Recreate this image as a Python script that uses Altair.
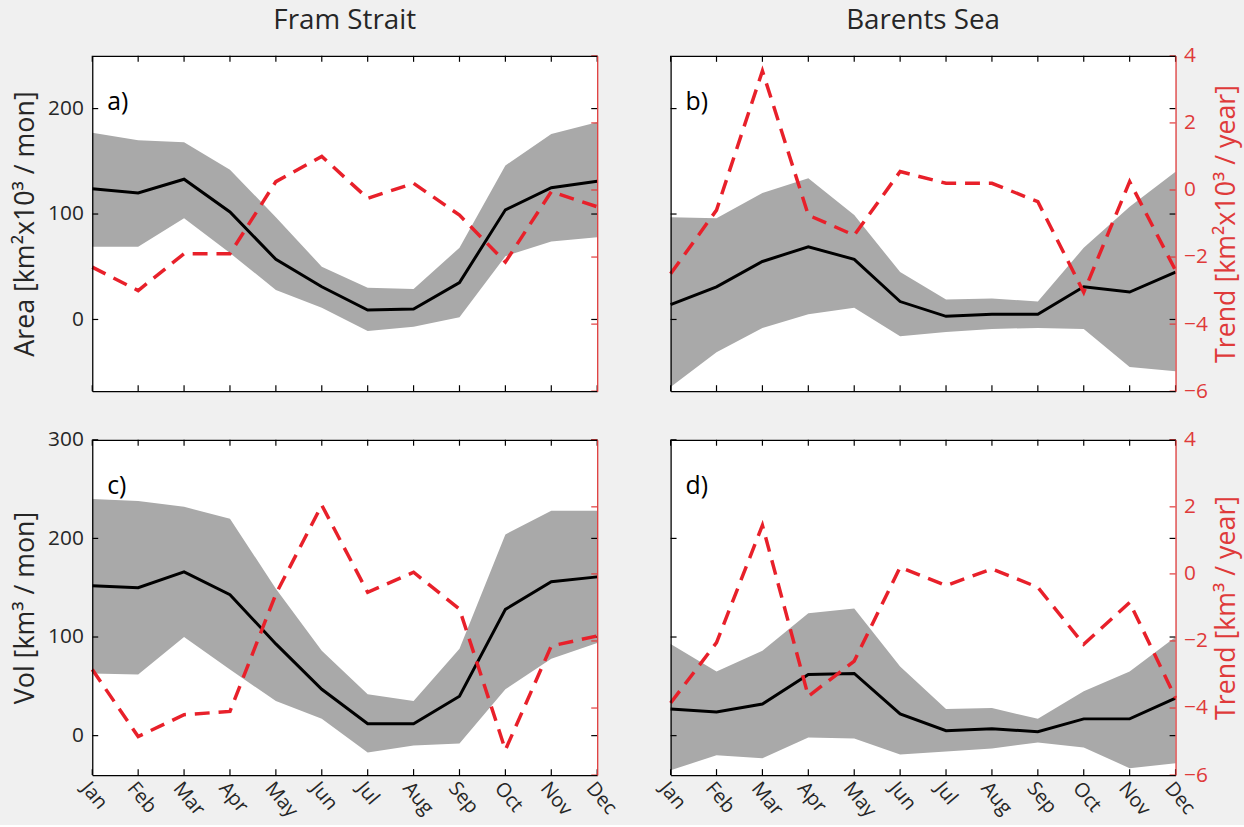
import altair as alt
import pandas as pd

months = ["Jan", "Feb", "Mar", "Apr", "May", "Jun", "Jul", "Aug", "Sep", "Oct", "Nov", "Dec"]

# Fram Strait - area
fram_area_mean = [124, 120, 133, 102, 57, 31, 9, 10, 35, 104, 125, 131]
fram_area_upper = [177, 170, 168, 142, 97, 50, 30, 29, 68, 146, 176, 187]
fram_area_lower = [69, 69, 96, 63, 28, 11, -11, -7, 2, 60, 74, 78]
fram_area_trend = [-2.3, -3.0, -1.9, -1.9, 0.25, 1.0, -0.25, 0.2, -0.75, -2.15, -0.05, -0.5]

# Barents Sea - area
barents_area_mean = [14, 31, 55, 69, 57, 17, 3, 5, 5, 31, 26, 45]
barents_area_upper = [97, 96, 120, 134, 99, 45, 19, 20, 17, 68, 107, 140]
barents_area_lower = [-64, -31, -8, 5, 11, -16, -12, -9, -8, -9, -45, -49]
barents_area_trend = [-2.5, -0.6, 3.55, -0.75, -1.35, 0.55, 0.2, 0.2, -0.35, -3.05, 0.25, -2.4]

# Fram Strait - volume
fram_vol_mean = [152, 150, 166, 143, 93, 47, 12, 12, 40, 128, 156, 161]
fram_vol_upper = [240, 238, 232, 220, 149, 86, 42, 35, 88, 204, 228, 228]
fram_vol_lower = [63, 62, 100, 67, 35, 17, -17, -10, -8, 47, 78, 94]
fram_vol_trend = [-2.85, -4.85, -4.2, -4.1, -0.6, 2.05, -0.55, 0.05, -1.05, -5.25, -2.15, -1.85]

# Barents Sea - volume
barents_vol_mean = [27, 24, 32, 62, 63, 22, 5, 7, 4, 17, 17, 38]
barents_vol_upper = [93, 65, 86, 124, 129, 70, 27, 28, 17, 45, 65, 100]
barents_vol_lower = [-35, -20, -23, -2, -3, -19, -16, -13, -7, -12, -33, -28]
barents_vol_trend = [-3.85, -2.05, 1.45, -3.65, -2.6, 0.2, -0.35, 0.15, -0.4, -2.1, -0.85, -3.7]

area_ticks = [0, 100, 200]
vol_ticks = [0, 100, 200, 300]
trend_ticks = [-6, -4, -2, 0, 2, 4]
area_domain = [-68, 250]
vol_domain = [-40, 300]
trend_domain = [-6, 4]

FONT = "Open Sans"
W, H = 509, 338
TL = 6  # inward tick length
RED = "#e8202a"
AXRED = "#df3a3a"
GREY = "#a9a9a9"
TXT = "#262626"
TICK_FS = 21
XTICK_FS = 20
TITLE_FS = 27


def panel(mean, upper, lower, trend, ydom, yticks, label,
          left_title=None, right_title=None, show_x=False, col_title=None):
    df = pd.DataFrame({"month": months, "mean": mean, "upper": upper,
                       "lower": lower, "trend": trend})
    xscale = alt.Scale(type="point", padding=0)
    yscale = alt.Scale(domain=ydom, nice=False, zero=False)
    tscale = alt.Scale(domain=trend_domain, nice=False, zero=False)

    bottom_kw = dict(orient="bottom", domainColor="black", domainWidth=1.3,
                     ticks=False, tickSize=0, title="", zindex=2)
    if show_x:
        bottom_kw.update(labels=True, labelAngle=50, labelAlign="left",
                         labelBaseline="top", labelPadding=3, labelFontSize=XTICK_FS,
                         labelFont=FONT, labelColor=TXT, labelOverlap=False)
    else:
        bottom_kw.update(labels=False)

    left_kw = dict(orient="left", values=yticks, domainColor="black", domainWidth=1.3,
                   ticks=False, tickSize=0, grid=False, zindex=2)
    if left_title:
        left_kw.update(labels=True, labelFontSize=TICK_FS, labelFont=FONT, labelColor=TXT,
                       labelPadding=9, title=left_title, titleFontSize=TITLE_FS,
                       titleFont=FONT, titleFontWeight="normal", titleColor=TXT,
                       titlePadding=8)
    else:
        left_kw.update(labels=False, title="")

    right_kw = dict(orient="right", values=trend_ticks, domainColor=AXRED, domainWidth=1.3,
                    ticks=False, tickSize=0, grid=False, zindex=2)
    if right_title:
        right_kw.update(labels=True, labelFontSize=TICK_FS, labelFont=FONT, labelColor=AXRED,
                        labelPadding=8, title=right_title, titleFontSize=TITLE_FS,
                        titleFont=FONT, titleFontWeight="normal", titleColor=AXRED,
                        titlePadding=6, titleAngle=270, titleBaseline="top")
    else:
        right_kw.update(labels=False, title="")

    top_axis = alt.Axis(orient="top", labels=False, ticks=False, tickSize=0,
                        domainColor="black", domainWidth=1.3, title="", zindex=2)

    band = alt.Chart(df).mark_area(color=GREY, opacity=1).encode(
        x=alt.X("month:O", sort=months, scale=xscale, axis=alt.Axis(**bottom_kw)),
        y=alt.Y("upper:Q", scale=yscale, axis=alt.Axis(**left_kw)),
        y2="lower:Q",
    )
    mean_line = alt.Chart(df).mark_line(color="black", strokeWidth=3).encode(
        x=alt.X("month:O", sort=months, scale=xscale),
        y=alt.Y("mean:Q", scale=yscale),
    )
    mdf = pd.DataFrame({"month": months})
    xt_top = alt.Chart(mdf).mark_rule(color="black", strokeWidth=1.2).encode(
        x=alt.X("month:O", sort=months, scale=xscale),
        y=alt.value(0), y2=alt.value(TL),
    )
    xt_bot = alt.Chart(mdf).mark_rule(color="black", strokeWidth=1.2).encode(
        x=alt.X("month:O", sort=months, scale=xscale),
        y=alt.value(H), y2=alt.value(H - TL),
    )
    ydf = pd.DataFrame({"v": yticks})
    yt_left = alt.Chart(ydf).mark_rule(color="black", strokeWidth=1.2).encode(
        y=alt.Y("v:Q", scale=yscale),
        x=alt.value(0), x2=alt.value(TL),
    )
    yt_right = alt.Chart(ydf).mark_rule(color="black", strokeWidth=1.2).encode(
        y=alt.Y("v:Q", scale=yscale),
        x=alt.value(W - TL), x2=alt.value(W),
    )
    ldf = pd.DataFrame({"t": [label]})
    lab = alt.Chart(ldf).mark_text(align="left", baseline="middle", fontSize=25,
                                   font=FONT, color="black").encode(
        x=alt.value(15), y=alt.value(47), text="t:N")

    layers = [band, mean_line, xt_top, xt_bot, yt_left, yt_right, lab]
    if col_title:
        cdf = pd.DataFrame({"t": [col_title]})
        layers.append(alt.Chart(cdf).mark_text(
            align="center", baseline="middle", fontSize=28, font=FONT, color=TXT
        ).encode(x=alt.value(W / 2), y=alt.value(-35), text="t:N"))
    left_layer = alt.layer(*layers)

    trend_line = alt.Chart(df).mark_line(color=RED, strokeWidth=3.5,
                                         strokeDash=[15, 9]).encode(
        x=alt.X("month:O", sort=months, scale=xscale, axis=top_axis),
        y=alt.Y("trend:Q", scale=tscale, axis=alt.Axis(**right_kw)),
    )
    tdf = pd.DataFrame({"v": trend_ticks})
    tt = alt.Chart(tdf).mark_rule(color=AXRED, strokeWidth=1.2).encode(
        y=alt.Y("v:Q", scale=tscale),
        x=alt.value(W - TL), x2=alt.value(W),
    )
    right_layer = alt.layer(trend_line, tt)

    ch = alt.layer(left_layer, right_layer).resolve_scale(
        y="independent").resolve_axis(x="independent", y="independent")
    return ch.properties(width=W, height=H)


a = panel(fram_area_mean, fram_area_upper, fram_area_lower, fram_area_trend,
          area_domain, area_ticks, "a)", left_title="Area [km²x10³ / mon]",
          col_title="Fram Strait")
b = panel(barents_area_mean, barents_area_upper, barents_area_lower, barents_area_trend,
          area_domain, area_ticks, "b)", right_title="Trend [km²x10³ / year]",
          col_title="Barents Sea")
c = panel(fram_vol_mean, fram_vol_upper, fram_vol_lower, fram_vol_trend,
          vol_domain, vol_ticks, "c)", left_title="Vol [km³ / mon]", show_x=True)
d = panel(barents_vol_mean, barents_vol_upper, barents_vol_lower, barents_vol_trend,
          vol_domain, vol_ticks, "d)", right_title="Trend [km³ / year]", show_x=True)

chart = alt.concat(a, b, c, d, columns=2, spacing={"row": 49, "column": 74},
                   bounds="flush").properties(
    padding={"left": 11, "top": 4, "right": 4, "bottom": 1},
    background="#f0f0f0",
).configure_view(fill="white", strokeWidth=0)

chart.save("out.html", embed_options={"renderer": "svg", "actions": False})
